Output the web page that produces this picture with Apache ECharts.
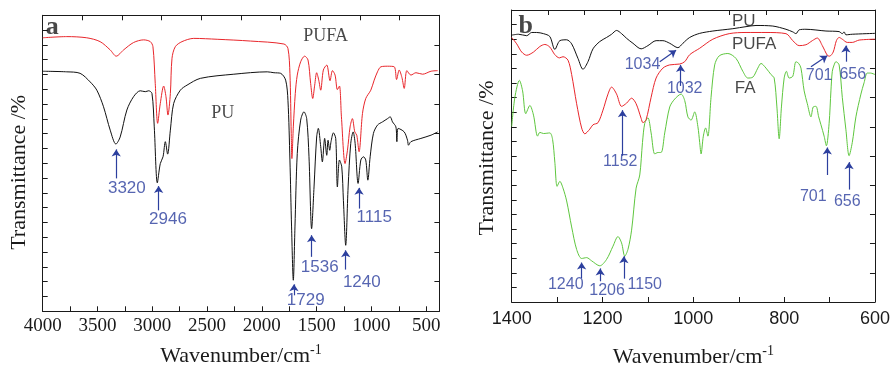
<!DOCTYPE html>
<html>
<head>
<meta charset="utf-8">
<style>
  html, body { margin: 0; padding: 0; background: #fff; }
  #chart { width: 893px; height: 373px; }
</style>
<script src="https://cdn.jsdelivr.net/npm/echarts@6/dist/echarts.min.js"></script>
</head>
<body>
<div id="chart"></div>
<script>
// FTIR spectra, panel a (PU / PUFA) and panel b (PU / PUFA / FA)
// x = wavenumber (cm-1), y = transmittance in arbitrary units (0-100, axis unlabeled)

var ticksA = [4000, 3500, 3000, 2500, 2000, 1500, 1000, 500];
var minorA = [4000, 3750, 3500, 3250, 3000, 2750, 2500, 2250, 2000, 1750, 1500, 1250, 1000, 750, 500];

// panel a - PU (black)
var puA = [
  [4000, 81.1], [3780, 80.9], [3659, 80.4], [3567, 77.5], [3506, 74.7], [3445, 69.1], [3384, 61.2],
  [3332, 56.5], [3293, 58.9], [3232, 68.0], [3171, 72.5], [3110, 74.5], [3064, 74.2], [3033, 74.5],
  [3003, 73.6], [2982, 62.3], [2954, 43.4], [2927, 49.9], [2902, 52.2], [2881, 57.3], [2860, 53.1],
  [2835, 61.2], [2805, 70.2], [2744, 74.7], [2683, 76.4], [2561, 78.7], [2256, 80.1], [1951, 80.9],
  [1890, 80.6], [1829, 80.4], [1783, 78.1], [1762, 71.3], [1744, 51.1], [1729, 28.5], [1713, 10.5],
  [1698, 28.5], [1677, 53.3], [1646, 64.6], [1616, 67.4], [1591, 65.1], [1570, 52.2], [1546, 27.9],
  [1524, 42.0], [1500, 58.9], [1485, 61.8], [1463, 55.6], [1448, 50.5], [1427, 58.4], [1408, 52.7],
  [1396, 57.8], [1381, 54.4], [1369, 57.3], [1347, 60.3], [1326, 58.4], [1311, 42.0], [1292, 51.1],
  [1271, 48.8], [1256, 37.5], [1235, 22.3], [1213, 42.0], [1189, 56.7], [1167, 60.6], [1149, 56.7],
  [1122, 43.2], [1097, 51.1], [1073, 52.2], [1052, 51.1], [1033, 44.3], [1012, 52.2], [982, 60.1],
  [945, 62.9], [899, 64.0], [853, 65.1], [829, 65.7], [808, 64.0], [777, 62.3], [768, 57.3],
  [756, 61.8], [701, 60.6], [671, 57.8], [662, 56.1], [640, 57.3], [549, 58.4], [457, 59.5], [396, 60.6]
];

// panel a - PUFA (red)
var pufaA = [
  [4000, 92.4], [3780, 92.8], [3598, 92.4], [3476, 91.1], [3384, 88.3], [3329, 86.2], [3262, 88.3],
  [3171, 90.8], [3079, 91.7], [3018, 91.1], [2994, 89.4], [2973, 77.0], [2951, 63.5], [2927, 70.2],
  [2896, 76.1], [2875, 72.5], [2857, 66.3], [2835, 73.6], [2820, 85.5], [2790, 89.4], [2729, 91.1],
  [2622, 92.2], [2408, 91.9], [2104, 91.3], [1799, 90.3], [1762, 88.8], [1744, 80.4], [1732, 60.1],
  [1726, 51.6], [1713, 62.3], [1695, 73.6], [1677, 79.8], [1646, 84.3], [1610, 86.2], [1579, 84.9],
  [1555, 77.0], [1536, 71.9], [1518, 76.4], [1500, 80.6], [1481, 78.1], [1463, 74.7], [1439, 81.5],
  [1408, 83.2], [1378, 77.9], [1356, 81.3], [1332, 79.8], [1311, 74.9], [1292, 76.1], [1274, 65.7],
  [1241, 49.9], [1219, 54.4], [1195, 62.3], [1174, 65.1], [1152, 60.6], [1134, 59.5], [1113, 53.9],
  [1082, 66.8], [1052, 71.9], [1006, 74.7], [975, 78.1], [945, 80.9], [914, 82.6], [853, 82.8],
  [792, 82.6], [771, 78.3], [747, 81.5], [722, 79.0], [701, 75.3], [677, 81.3], [640, 79.8],
  [594, 80.6], [533, 80.1], [457, 81.1], [396, 81.3]
];

// panel b - PU (black)
var puB = [
  [1400, 91.4], [1385, 91.7], [1367, 91.2], [1356, 92.3], [1345, 92.3], [1330, 91.9], [1316, 90.9],
  [1305, 86.5], [1294, 89.5], [1279, 89.8], [1268, 88.4], [1254, 83.4], [1243, 79.7], [1232, 82.3],
  [1221, 86.7], [1206, 89.2], [1191, 90.6], [1180, 91.7], [1169, 93.0], [1158, 91.9], [1147, 90.3],
  [1133, 88.6], [1115, 86.7], [1100, 87.8], [1082, 89.5], [1067, 89.5], [1052, 88.6], [1034, 87.1],
  [1023, 88.6], [1008, 90.6], [986, 92.0], [957, 92.8], [935, 93.2], [913, 93.6], [884, 94.3],
  [862, 94.7], [825, 94.5], [796, 93.4], [781, 92.5], [774, 91.9], [767, 93.2], [752, 93.4],
  [708, 92.8], [679, 92.6], [672, 91.9], [668, 92.5], [664, 91.5], [650, 91.7], [600, 92.0]
];

// panel b - PUFA (red)
var pufaB = [
  [1400, 90.6], [1389, 88.4], [1378, 85.6], [1367, 84.5], [1352, 85.6], [1338, 87.5], [1327, 88.2],
  [1316, 87.3], [1305, 84.7], [1295, 83.6], [1287, 84.0], [1276, 82.8], [1268, 77.9], [1257, 67.9],
  [1246, 59.6], [1239, 57.6], [1228, 59.2], [1221, 60.7], [1210, 61.4], [1199, 65.7], [1188, 71.2],
  [1180, 73.6], [1169, 71.2], [1158, 67.0], [1147, 68.1], [1136, 69.8], [1126, 67.9], [1115, 62.9],
  [1111, 61.4], [1104, 62.5], [1093, 70.1], [1082, 76.7], [1067, 80.1], [1052, 81.2], [1030, 81.5],
  [1019, 82.3], [1008, 84.7], [986, 86.9], [957, 90.0], [921, 91.9], [884, 92.3], [840, 92.3],
  [796, 91.9], [781, 89.5], [767, 87.8], [752, 88.1], [738, 89.5], [727, 90.4], [716, 87.8],
  [705, 84.5], [700, 84.2], [692, 85.6], [685, 89.5], [679, 90.6], [672, 90.0], [661, 88.9],
  [650, 88.9], [635, 89.7], [600, 90.0]
];

// panel b - FA (green)
var faB = [
  [1400, 60.1], [1393, 70.1], [1383, 75.9], [1376, 72.3], [1369, 64.5], [1360, 67.3], [1352, 64.0],
  [1343, 56.8], [1338, 58.1], [1330, 57.7], [1316, 57.9], [1310, 55.7], [1305, 47.9], [1300, 39.6],
  [1294, 41.3], [1287, 39.0], [1279, 34.6], [1268, 25.7], [1257, 18.0], [1246, 14.9], [1235, 15.2],
  [1224, 14.1], [1206, 12.4], [1191, 14.6], [1177, 19.1], [1166, 22.4], [1158, 20.2], [1151, 15.7],
  [1144, 18.0], [1136, 24.6], [1126, 39.0], [1118, 43.5], [1112, 54.6], [1107, 61.2], [1100, 63.1],
  [1093, 57.9], [1085, 50.7], [1078, 51.2], [1071, 51.2], [1063, 57.9], [1052, 66.8], [1041, 69.5],
  [1027, 71.2], [1019, 69.0], [1012, 63.4], [1005, 62.3], [997, 65.1], [990, 60.1], [986, 54.6],
  [983, 50.7], [978, 56.8], [973, 59.6], [968, 56.8], [961, 70.1], [953, 81.2], [943, 84.3],
  [924, 85.1], [906, 83.4], [891, 79.0], [880, 76.7], [869, 77.0], [858, 80.1], [851, 81.7],
  [840, 80.1], [829, 77.9], [822, 76.7], [816, 66.8], [811, 55.9], [806, 66.8], [800, 76.7],
  [795, 79.0], [789, 76.7], [781, 77.3], [774, 82.3], [768, 81.7], [763, 80.1], [756, 72.3],
  [749, 67.9], [741, 63.4], [736, 66.8], [730, 67.0], [724, 63.4], [719, 60.7], [712, 56.8],
  [707, 53.5], [701, 61.2], [697, 72.3], [694, 79.0], [690, 81.2], [686, 82.3], [679, 81.2],
  [672, 70.1], [664, 59.0], [657, 50.1], [650, 54.6], [642, 63.4], [631, 71.2], [624, 75.1],
  [617, 78.4], [610, 78.4], [600, 77.9]
];

// peak arrows: [label, x tail, y tail, x tip, y tip]
var arrowsA = [
  ['3320', 3329, 44.9, 3329, 54.7],
  ['2946', 2942, 34.1, 2942, 42.3],
  ['1729', 1707, 5.4, 1707, 9.1],
  ['1536', 1546, 18.4, 1546, 25.7],
  ['1240', 1235, 14.1, 1235, 20.6],
  ['1115', 1113, 34.7, 1113, 41.7]
];
var arrowsB = [
  ['1034', 1074, 82.3, 1038, 86.2],
  ['1032', 1028, 74.0, 1028, 81.2],
  ['1152', 1156, 50.1, 1156, 65.7],
  ['1240', 1246, 8.2, 1246, 13.5],
  ['1206', 1205, 7.1, 1205, 11.5],
  ['1150', 1153, 8.0, 1153, 15.7],
  ['701', 705, 43.5, 705, 52.9],
  ['656', 657, 38.5, 657, 47.9],
  ['701', 741, 80.6, 705, 84.3],
  ['656', 664, 82.3, 664, 87.8]
];

// peak labels: [text, x, y]
var peakLabelsA = [
  ['3320', 3232, 41.7], ['2946', 2857, 31.0], ['1729', 1600, 3.7],
  ['1536', 1472, 15.0], ['1240', 1088, 9.9], ['1115', 975, 31.7]
];
var peakLabelsB = [
  ['1034', 1112, 81.2], ['1032', 1019, 73.2], ['1152', 1161, 48.2],
  ['1240', 1281, 6.0], ['1206', 1190, 3.9], ['1150', 1107, 6.0],
  ['701', 736, 36.0], ['656', 661, 34.4], ['701', 723, 77.6], ['656', 649, 77.9]
];

// curve names and panel letters
var namesA = [['PUFA', 1418, 93.0], ['PU', 2357, 66.8]];
var namesB = [['PU', 889, 96.2], ['PUFA', 866, 88.1], ['FA', 886, 73.2]];
var panelTags = [['a', 3912, 96.1], ['b', 1369, 94.5]];

var SERIF = '"Liberation Serif", "Times New Roman", serif';
var SANS = '"Liberation Sans", Arial, sans-serif';
var BLUE = '#2c3f9e';
var INK = '#1a1a1a';

var myChart = echarts.init(document.getElementById('chart'));

function boxAxis(extra) {
  var base = {
    axisLine: { show: true, onZero: false, lineStyle: { color: INK, width: 1 } },
    axisTick: { show: true, inside: true, length: 5, lineStyle: { color: INK } },
    axisLabel: { show: false },
    splitLine: { show: false }
  };
  return Object.assign(base, extra);
}

var xName = 'Wavenumber/cm{sup|-1}';
var xNameStyle = {
  fontFamily: SERIF, fontSize: 22, color: INK,
  rich: { sup: { fontFamily: SERIF, fontSize: 14, color: INK, verticalAlign: 'top', lineHeight: 26 } }
};

function arrowLines(list) {
  return list.map(function (a) {
    return [{ coord: [a[1], a[2]], symbol: 'none' }, { coord: [a[3], a[4]], symbol: 'arrow' }];
  });
}

function textPoints(list, style) {
  return list.map(function (t) {
    return { value: [t[1], t[2]], name: t[0], label: style };
  });
}

function textSeries(xi, yi, data, markLines) {
  var s = {
    type: 'scatter', xAxisIndex: xi, yAxisIndex: yi, symbolSize: 0, silent: true, z: 5,
    label: { show: true, position: 'inside', formatter: '{b}' },
    data: data
  };
  if (markLines) {
    s.markLine = {
      silent: true, symbol: ['none', 'arrow'], symbolSize: 7,
      label: { show: false },
      lineStyle: { color: BLUE, width: 1.2, type: 'solid' },
      data: markLines
    };
  }
  return s;
}

var peakStyleA = { color: BLUE, fontFamily: SANS, fontSize: 17 };
var peakStyleB = { color: BLUE, fontFamily: SANS, fontSize: 16 };
var nameStyleA = { color: INK, fontFamily: SERIF, fontSize: 18 };
var nameStyleB = { color: INK, fontFamily: SANS, fontSize: 17 };
var tagStyle = { color: INK, fontFamily: SERIF, fontSize: 26, fontWeight: 'bold' };

function lineSeries(xi, yi, data, color) {
  return {
    type: 'line', xAxisIndex: xi, yAxisIndex: yi, data: data,
    symbol: 'none', smooth: 0.3, silent: true,
    lineStyle: { color: color, width: 1 }
  };
}

var option = {
  animation: false,
  backgroundColor: '#fff',
  grid: [
    { left: 42.7, top: 15.3, width: 396.7, height: 296 },
    { left: 511.7, top: 10, width: 364.3, height: 300.7 }
  ],
  xAxis: [
    boxAxis({
      gridIndex: 0, type: 'value', min: 380, max: 4000, inverse: true, position: 'bottom',
      axisTick: { show: true, inside: true, length: 5, customValues: minorA, lineStyle: { color: INK } },
      axisLabel: {
        show: true, customValues: ticksA, margin: 5, fontFamily: SERIF, fontSize: 19, color: INK,
        formatter: function (v) { return String(v); }
      },
      name: xName, nameLocation: 'middle', nameGap: 32, nameTextStyle: xNameStyle
    }),
    boxAxis({ gridIndex: 0, type: 'value', min: 0, max: 10, interval: 1, position: 'top' }),
    boxAxis({
      gridIndex: 1, type: 'value', min: 600, max: 1400, interval: 100, inverse: true, position: 'bottom',
      axisLabel: {
        show: true, margin: 8, fontFamily: SANS, fontSize: 18, color: INK,
        formatter: function (v) { return v % 200 === 0 ? String(v) : ''; }
      },
      name: xName, nameLocation: 'middle', nameGap: 42, nameTextStyle: xNameStyle
    }),
    boxAxis({ gridIndex: 1, type: 'value', min: 0, max: 10, interval: 1, position: 'top' })
  ],
  yAxis: [
    boxAxis({
      gridIndex: 0, type: 'value', min: 0, max: 100, interval: 5, position: 'left',
      name: 'Transmittance /%', nameLocation: 'middle', nameRotate: 90, nameGap: 12,
      nameTextStyle: { fontFamily: SERIF, fontSize: 22, color: INK, padding: [0, 18, 0, 0] }
    }),
    boxAxis({ gridIndex: 0, type: 'value', min: 0, max: 10, interval: 1, position: 'right' }),
    boxAxis({
      gridIndex: 1, type: 'value', min: 0, max: 100, interval: 5, position: 'left',
      name: 'Transmittance /%', nameLocation: 'middle', nameRotate: 90, nameGap: 13,
      nameTextStyle: { fontFamily: SERIF, fontSize: 22, color: INK, padding: [0, 4, 0, 0] }
    }),
    boxAxis({ gridIndex: 1, type: 'value', min: 0, max: 10, interval: 1, position: 'right' })
  ],
  series: [
    lineSeries(0, 0, puA, '#111111'),
    lineSeries(0, 0, pufaA, '#e8262b'),
    lineSeries(2, 2, faB, '#5ec63e'),
    lineSeries(2, 2, pufaB, '#e8262b'),
    lineSeries(2, 2, puB, '#111111'),
    textSeries(0, 0,
      textPoints(peakLabelsA, peakStyleA)
        .concat(textPoints(namesA, nameStyleA))
        .concat(textPoints([panelTags[0]], tagStyle)),
      arrowLines(arrowsA)),
    textSeries(2, 2,
      textPoints(peakLabelsB, peakStyleB)
        .concat(textPoints(namesB, nameStyleB))
        .concat(textPoints([panelTags[1]], tagStyle)),
      arrowLines(arrowsB))
  ]
};

myChart.setOption(option);

window.addEventListener('resize', function () {
  myChart.resize();
});
</script>
</body>
</html>
